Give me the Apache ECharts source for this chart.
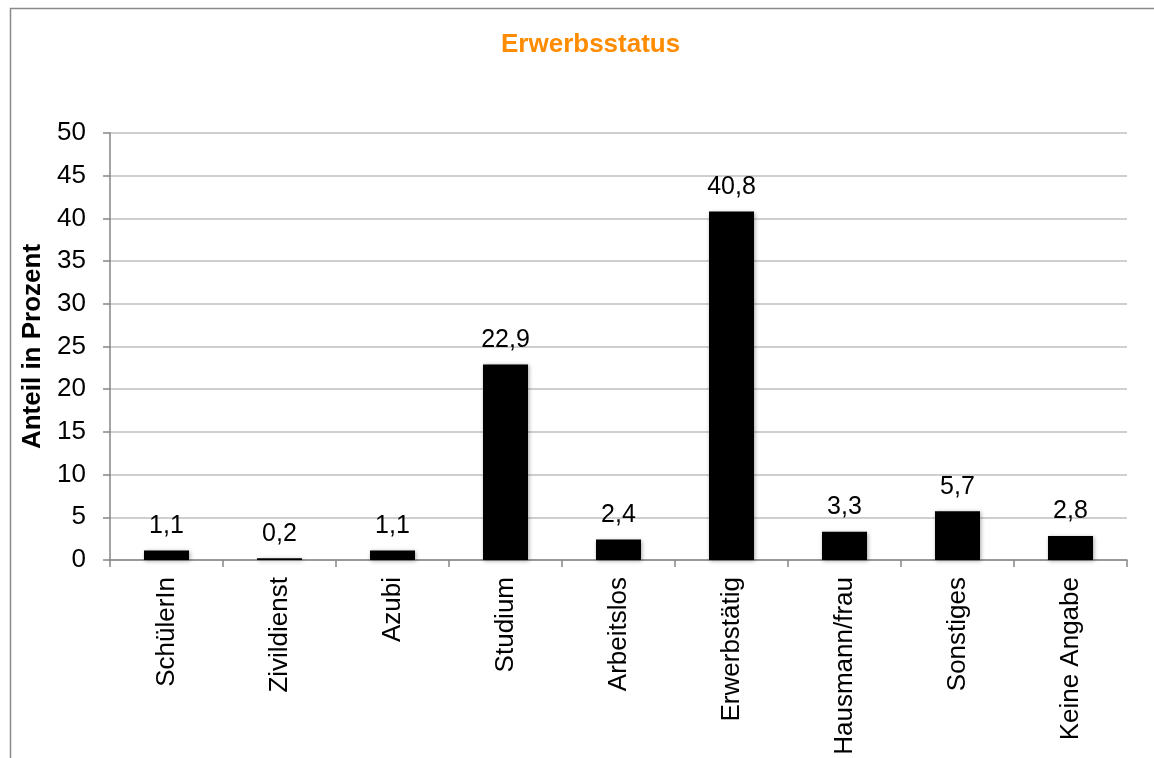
<!DOCTYPE html>
<html>
<head>
<meta charset="utf-8">
<script src="https://cdn.jsdelivr.net/npm/echarts@6/dist/echarts.min.js"></script>
<style>
html,body{margin:0;padding:0;background:#fff;}
#c{width:1154px;height:758px;}
</style>
</head>
<body>
<div id="c"></div>
<script>
const titleText = 'Erwerbsstatus';
const yAxisName = 'Anteil in Prozent';
const categories = ['SchülerIn','Zivildienst','Azubi','Studium','Arbeitslos','Erwerbstätig','Hausmann/frau','Sonstiges','Keine Angabe'];
const values = [1.1, 0.2, 1.1, 22.9, 2.4, 40.8, 3.3, 5.7, 2.8];

const chart = echarts.init(document.getElementById('c'), null, {renderer:'canvas'});
const font = 'Liberation Sans, Arial, sans-serif';
chart.setOption({
  animation:false,
  backgroundColor:'#fff',
  textStyle:{fontFamily:font},
  graphic:[{
    type:'rect', silent:true, z:-1,
    shape:{x:10.5, y:8.5, width:2000, height:2000},
    style:{fill:'none', stroke:'#8a8a8a', lineWidth:1.5}
  }],
  title:{
    text:titleText, left:496, top:27,
    textStyle:{color:'#FF8C00', fontSize:26, fontWeight:'bold', fontFamily:font}
  },
  grid:{left:110, right:27, top:133, bottom:198, containLabel:false},
  xAxis:{
    type:'category', data:categories,
    axisLine:{lineStyle:{color:'#868686', width:1.5}},
    axisTick:{show:true, length:7, alignWithLabel:false, lineStyle:{color:'#868686', width:1.5}},
    axisLabel:{rotate:90, fontSize:26, color:'#000', margin:17, interval:0, fontFamily:font}
  },
  yAxis:{
    type:'value', min:0, max:50, interval:5,
    name:yAxisName, nameLocation:'middle', nameGap:60, nameRotate:90,
    nameTextStyle:{fontSize:26, fontWeight:'bold', color:'#000', fontFamily:font},
    axisLine:{show:true, lineStyle:{color:'#868686', width:1.5}},
    axisTick:{show:true, length:7, lineStyle:{color:'#868686', width:1.5}},
    axisLabel:{fontSize:26, color:'#000', margin:24, fontFamily:font},
    splitLine:{lineStyle:{color:'#BFBFBF', width:1.5}}
  },
  series:[{
    type:'bar', data:values, barWidth:45,
    itemStyle:{color:'#000', shadowColor:'rgba(0,0,0,0.35)', shadowBlur:4, shadowOffsetX:1, shadowOffsetY:1},
    label:{show:true, position:'top', distance:12, fontSize:25, color:'#000', fontFamily:font,
      formatter:p=>String(p.value).replace('.', ',')}
  }]
});
</script>
</body>
</html>
